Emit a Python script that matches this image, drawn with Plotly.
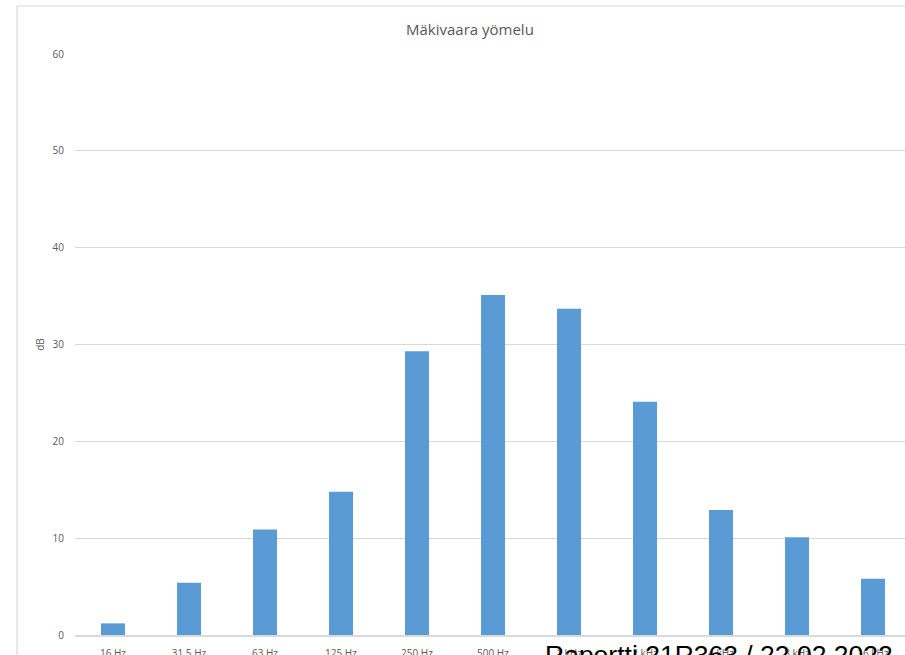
import plotly.graph_objects as go

categories = ["16 Hz", "31.5 Hz", "63 Hz", "125 Hz", "250 Hz", "500 Hz",
              "1 kHz", "2 kHz", "4 kHz", "8 kHz", "16 kHz"]
values = [1.2, 5.4, 10.9, 14.8, 29.3, 35.1, 33.7, 24.1, 12.9, 10.1, 5.8]
y_ticks = [0, 10, 20, 30, 40, 50, 60]
title_text = "Mäkivaara yömelu"
y_title = "dB"
overlay_text = "Raportti 21R363 / 22.02.2022"

W, H = 905, 655
L, R, T, B = 75, 0, 54, 20
pw, ph = W - L - R, H - T - B


def px(x):
    return (x - L) / pw


def py(y):
    return (H - B - y) / ph


fig = go.Figure()
fig.add_trace(go.Bar(
    x=list(range(len(categories))), y=values,
    marker=dict(color="#5b9bd5", line=dict(width=0)),
    width=0.316,
))

fig.update_layout(
    width=W, height=H,
    margin=dict(l=L, r=R, t=T, b=B, autoexpand=False),
    paper_bgcolor="white", plot_bgcolor="white",
    showlegend=False,
    font=dict(family="Open Sans, Noto Sans, sans-serif", color="#595959", size=10),
    xaxis=dict(
        range=[-0.5, -0.5 + pw / 76.0],
        tickmode="array",
        tickvals=list(range(len(categories))),
        ticktext=categories,
        showgrid=False, zeroline=False,
        showline=True, linecolor="#d9d9d9", linewidth=1.5,
        ticks="", tickfont=dict(size=10, color="#595959"),
        ticklabelstandoff=8,
        automargin=False,
    ),
    yaxis=dict(
        range=[0, 60],
        tickmode="array", tickvals=y_ticks,
        showgrid=True, gridcolor="#d9d9d9", gridwidth=1,
        zeroline=False, showline=False,
        ticks="", tickfont=dict(size=10, color="#595959"),
        ticklabelstandoff=10,
        automargin=False,
        title=dict(text=y_title, font=dict(size=10, color="#595959"), standoff=6),
    ),
    annotations=[
        dict(text=title_text, xref="paper", yref="paper",
             x=px(470), y=py(29), xanchor="center", yanchor="middle",
             showarrow=False, font=dict(size=15, color="#595959")),
        dict(text=overlay_text, xref="paper", yref="paper",
             x=px(543), y=py(638), xanchor="left", yanchor="top",
             showarrow=False,
             font=dict(family="Liberation Sans, Arial, sans-serif", size=26.5, color="black")),
    ],
    shapes=[
        dict(type="line", xref="paper", yref="paper",
             x0=px(17), x1=px(905), y0=py(6), y1=py(6),
             line=dict(color="#d9d9d9", width=1.2)),
        dict(type="line", xref="paper", yref="paper",
             x0=px(17), x1=px(17), y0=py(6), y1=py(660),
             line=dict(color="#d9d9d9", width=1.2)),
    ],
)

fig.write_html("out.html",
               config={"displayModeBar": False},
               post_script="document.body.style.margin='0';document.body.style.overflow='hidden';")
